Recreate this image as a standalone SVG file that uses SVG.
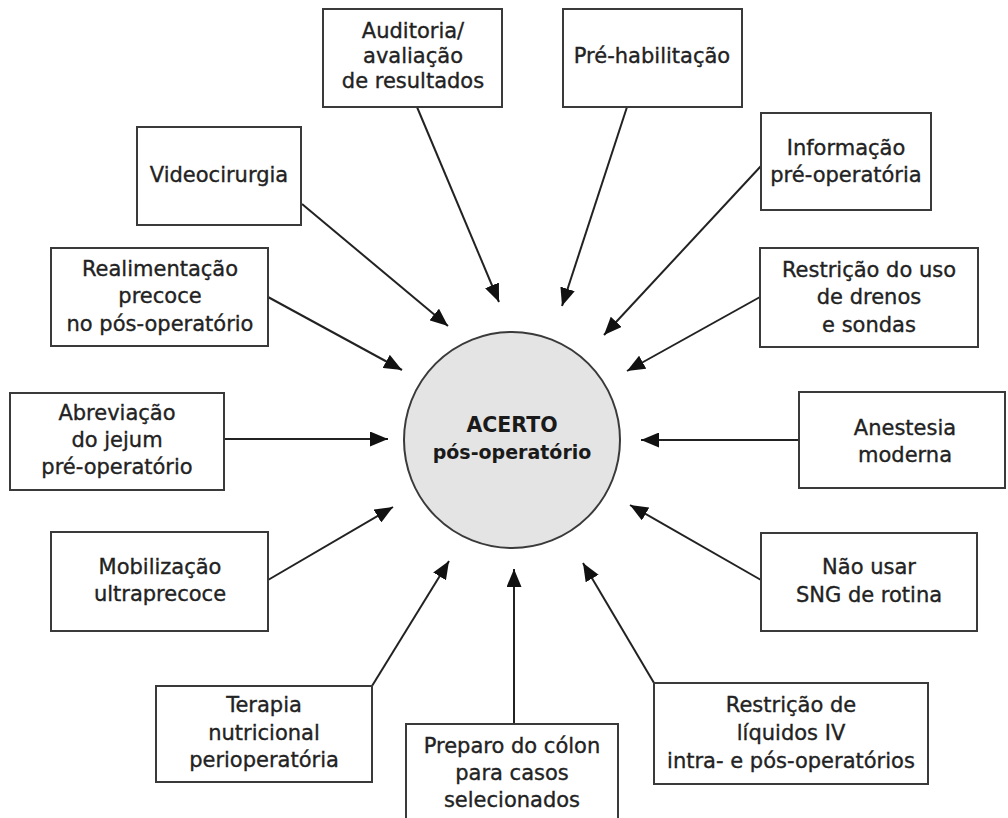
<svg xmlns="http://www.w3.org/2000/svg" width="1008" height="818" viewBox="0 0 1008 818">
<defs>
<style>
.box{fill:#fff;stroke:#3a3a3a;stroke-width:2}
.t{font-family:"DejaVu Sans","Liberation Sans",sans-serif;font-size:21px;fill:#222;stroke:#222;stroke-width:0.35;text-anchor:middle}
.c{font-family:"DejaVu Sans","Liberation Sans",sans-serif;font-weight:bold;fill:#1a1a1a;text-anchor:middle}
.ln{stroke:#222;stroke-width:2;fill:none;marker-end:url(#ah)}
</style>
<marker id="ah" markerUnits="userSpaceOnUse" markerWidth="19" markerHeight="15" refX="18" refY="7.5" orient="auto">
<path d="M0,0 L18,7.5 L0,15 Z" fill="#111"/>
</marker>
</defs>
<rect width="1008" height="818" fill="#fff"/>
<g id="connectors">
<line class="ln" x1="417" y1="107" x2="499" y2="302"/>
<line class="ln" x1="627" y1="107" x2="562" y2="306"/>
<line class="ln" x1="302" y1="204" x2="448" y2="326"/>
<line class="ln" x1="761" y1="166" x2="604" y2="335"/>
<line class="ln" x1="268" y1="297" x2="402" y2="370"/>
<line class="ln" x1="760" y1="297" x2="627" y2="371"/>
<line class="ln" x1="224" y1="439" x2="388" y2="439"/>
<line class="ln" x1="799" y1="440" x2="641" y2="440"/>
<line class="ln" x1="268" y1="580" x2="393" y2="507"/>
<line class="ln" x1="761" y1="580" x2="630" y2="505"/>
<line class="ln" x1="372" y1="686" x2="449" y2="561"/>
<line class="ln" x1="514" y1="724" x2="514" y2="569"/>
<line class="ln" x1="654" y1="683" x2="583" y2="563"/>
</g>
<g id="center">
<circle cx="512" cy="440" r="108" fill="#e4e4e4" stroke="#3a3a3a" stroke-width="2"/>
<text class="c" x="512" y="432" font-size="20.5">ACERTO</text>
<text class="c" x="512" y="459" font-size="19">pós-operatório</text>
</g>
<g id="auditoria">
<rect class="box" x="323" y="9" width="179" height="98"/>
<text class="t" x="413" y="38">Auditoria/</text>
<text class="t" x="413" y="63">avaliação</text>
<text class="t" x="413" y="88">de resultados</text>
</g>
<g id="prehabilitacao">
<rect class="box" x="563" y="9" width="179" height="98"/>
<text class="t" x="652" y="63">Pré-habilitação</text>
</g>
<g id="videocirurgia">
<rect class="box" x="137" y="127" width="164" height="98"/>
<text class="t" x="219" y="182">Videocirurgia</text>
</g>
<g id="informacao">
<rect class="box" x="761" y="113" width="170" height="97"/>
<text class="t" x="846" y="155">Informação</text>
<text class="t" x="846" y="182">pré-operatória</text>
</g>
<g id="realimentacao">
<rect class="box" x="51" y="248" width="217" height="98"/>
<text class="t" x="160" y="276">Realimentação</text>
<text class="t" x="160" y="303">precoce</text>
<text class="t" x="160" y="331">no pós-operatório</text>
</g>
<g id="restricao-drenos">
<rect class="box" x="760" y="248" width="218" height="99"/>
<text class="t" x="869" y="277">Restrição do uso</text>
<text class="t" x="869" y="304">de drenos</text>
<text class="t" x="869" y="332">e sondas</text>
</g>
<g id="abreviacao">
<rect class="box" x="10" y="393" width="214" height="97"/>
<text class="t" x="117" y="420">Abreviação</text>
<text class="t" x="117" y="447">do jejum</text>
<text class="t" x="117" y="474">pré-operatório</text>
</g>
<g id="anestesia">
<rect class="box" x="799" y="392" width="206" height="96"/>
<text class="t" x="905" y="435">Anestesia</text>
<text class="t" x="905" y="462">moderna</text>
</g>
<g id="mobilizacao">
<rect class="box" x="51" y="532" width="217" height="99"/>
<text class="t" x="160" y="574">Mobilização</text>
<text class="t" x="160" y="601">ultraprecoce</text>
</g>
<g id="nao-usar-sng">
<rect class="box" x="761" y="533" width="216" height="98"/>
<text class="t" x="869" y="574">Não usar</text>
<text class="t" x="869" y="602">SNG de rotina</text>
</g>
<g id="terapia">
<rect class="box" x="156" y="686" width="216" height="96"/>
<text class="t" x="264" y="712">Terapia</text>
<text class="t" x="264" y="740">nutricional</text>
<text class="t" x="264" y="767">perioperatória</text>
</g>
<g id="preparo">
<rect class="box" x="406" y="724" width="212" height="102"/>
<text class="t" x="512" y="753">Preparo do cólon</text>
<text class="t" x="512" y="780">para casos</text>
<text class="t" x="512" y="807">selecionados</text>
</g>
<g id="restricao-liquidos">
<rect class="box" x="654" y="683" width="274" height="101"/>
<text class="t" x="791" y="712">Restrição de</text>
<text class="t" x="791" y="740">líquidos IV</text>
<text class="t" x="791" y="768">intra- e pós-operatórios</text>
</g>
</svg>
